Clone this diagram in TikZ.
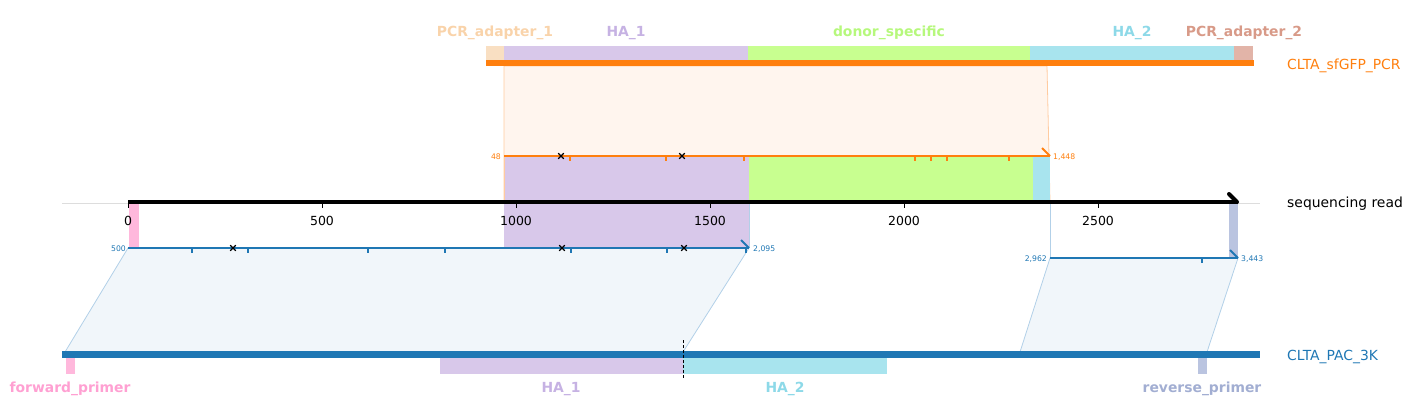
\documentclass[tikz,border=0pt]{standalone}
\usepackage{fontspec}
\setmainfont{DejaVu Sans}
\definecolor{cOrange}{HTML}{FF7F0E}
\definecolor{cBlue}{HTML}{1F77B4}
\definecolor{oShade}{HTML}{FFF5EE}
\definecolor{oEdge}{HTML}{FFCBA0}
\definecolor{bShade}{HTML}{F1F6FA}
\definecolor{bEdge}{HTML}{B2D0E8}
\definecolor{fPeach}{HTML}{F9DFC2}
\definecolor{tPeach}{HTML}{F9D3AA}
\definecolor{fLav}{HTML}{D8C8EA}
\definecolor{tLav}{HTML}{C6B2E3}
\definecolor{fGreen}{HTML}{C8FF90}
\definecolor{tGreen}{HTML}{B6F87C}
\definecolor{fCyan}{HTML}{A8E4EE}
\definecolor{tCyan}{HTML}{8DD9E8}
\definecolor{fBrown}{HTML}{E2B4A8}
\definecolor{tBrown}{HTML}{D89A88}
\definecolor{fPink}{HTML}{FFB8DC}
\definecolor{tPink}{HTML}{FFA0D2}
\definecolor{fSlate}{HTML}{BAC4E0}
\definecolor{tSlate}{HTML}{A2AED2}
\definecolor{gridGrey}{HTML}{DDDDDD}
\begin{document}
\begin{tikzpicture}[x=1pt,y=-1pt,
  featlbl/.style={font=\fontsize{13.9}{16}\selectfont\bfseries, inner sep=0pt, yshift=-2pt},
  seqlbl/.style={font=\fontsize{13.9}{16}\selectfont, inner sep=0pt, anchor=west, yshift=-2pt},
  ticklbl/.style={font=\fontsize{12.5}{14}\selectfont, inner sep=0pt, yshift=-1.5pt},
  poslbl/.style={font=\fontsize{7.7}{9}\selectfont, inner sep=0pt},
  aln/.style={line width=2pt},
  tickm/.style={line width=1.6pt},
  xmark/.style={line width=1.2pt, black},
  halfarrow/.style={line width=2pt}
]
\useasboundingbox (0,0) rectangle (1413,420);

% ---- shaded correspondence regions ----
\filldraw[fill=oShade, draw=oEdge, line width=0.8pt] (504,66) -- (1047,66) -- (1050,202) -- (504,202) -- cycle;
\filldraw[fill=bShade, draw=bEdge, line width=0.8pt] (128,248) -- (749,248) -- (683,352) -- (65,352) -- cycle;
\filldraw[fill=bShade, draw=bEdge, line width=0.8pt] (1050,258) -- (1238,258) -- (1207,352) -- (1020,352) -- cycle;

% ---- features projected on the read ----
\fill[fLav] (504,156) rectangle (749,202);
\fill[fGreen] (749,156) rectangle (1033,202);
\fill[fCyan] (1033,156) rectangle (1050,202);
\fill[fPink] (129,202) rectangle (139,248);
\fill[fLav] (504,202) rectangle (749,248);
\fill[fSlate] (1229,202) rectangle (1238,258);
\draw[bEdge, line width=0.8pt] (749.5,202) -- (749.5,248);
\draw[bEdge, line width=0.8pt] (1050,202) -- (1050,258);
\draw[oEdge, line width=0.8pt] (504,156) -- (504,202);

% ---- top record: CLTA_sfGFP_PCR ----
\fill[fPeach] (486,46) rectangle (504,60);
\fill[fLav] (504,46) rectangle (748,60);
\fill[fGreen] (748,46) rectangle (1030,60);
\fill[fCyan] (1030,46) rectangle (1234,60);
\fill[fBrown] (1234,46) rectangle (1253,60);
\fill[cOrange] (486,60) rectangle (1254,66);

\node[featlbl, text=tPeach] (lPCR1) at (495,31) {PCR\_adapter\_1};
\node[featlbl, text=tLav] (lHA1top) at (626,31) {HA\_1};
\node[featlbl, text=tGreen] (lDonor) at (889,31) {donor\_specific};
\node[featlbl, text=tCyan] (lHA2top) at (1132,31) {HA\_2};
\node[featlbl, text=tBrown] (lPCR2) at (1244,31) {PCR\_adapter\_2};
\node[seqlbl, text=cOrange] (lPCR) at (1287,64) {CLTA\_sfGFP\_PCR};

% ---- orange alignment ----
\draw[cOrange, aln] (504,156) -- (1050,156);
\draw[cOrange, halfarrow] (1050,156) -- (1042,148);
\foreach \x in {570,666,744,915,931,947,1009} \draw[cOrange, tickm] (\x,156) -- (\x,161);
\foreach \x in {561,682} \draw[xmark] (\x-2.8,153.2) -- (\x+2.8,158.8) (\x-2.8,158.8) -- (\x+2.8,153.2);
\node[poslbl, text=cOrange, anchor=east] (o48) at (501,157) {48};
\node[poslbl, text=cOrange, anchor=west] (o1448) at (1053,157) {1,448};

% ---- sequencing read axis ----
\draw[gridGrey, line width=0.8pt] (62,203) -- (1260,203);
\draw[black, line width=4pt] (128,202) -- (1238,202);
\draw[black, line width=4pt, line cap=round] (1237,202) -- (1229,194);
\foreach \v/\x in {0/128,500/322,1000/516,1500/710,2000/904,2500/1098} {
  \draw[black, line width=1pt] (\x,202) -- (\x,208);
  \node[ticklbl] (t\v) at (\x,219) {\v};
}
\node[seqlbl, text=black] (lRead) at (1287,202) {sequencing read};

% ---- blue alignments ----
\draw[cBlue, aln] (128,248) -- (749,248);
\draw[cBlue, halfarrow] (749,248) -- (741,240);
\foreach \x in {192,248,368,445,571,667,746} \draw[cBlue, tickm] (\x,248) -- (\x,253);
\foreach \x in {233,562,684} \draw[xmark] (\x-2.8,245.2) -- (\x+2.8,250.8) (\x-2.8,250.8) -- (\x+2.8,245.2);
\node[poslbl, text=cBlue, anchor=east] (b500) at (126,249) {500};
\node[poslbl, text=cBlue, anchor=west] (b2095) at (753,249) {2,095};

\draw[cBlue, aln] (1050,258) -- (1238,258);
\draw[cBlue, halfarrow] (1238,258) -- (1230,250);
\draw[cBlue, tickm] (1202,258) -- (1202,263);
\node[poslbl, text=cBlue, anchor=east] (b2962) at (1047,259) {2,962};
\node[poslbl, text=cBlue, anchor=west] (b3443) at (1241,259) {3,443};

% ---- bottom record: CLTA_PAC_3K ----
\fill[cBlue] (62,351) rectangle (1260,358);
\fill[fPink] (66,358) rectangle (75,374);
\fill[fLav] (440,358) rectangle (683,374);
\fill[fCyan] (683,358) rectangle (887,374);
\fill[fSlate] (1198,358) rectangle (1207,374);
\draw[black, line width=1pt, dash pattern=on 3pt off 2pt] (683,340) -- (683,378);

\node[featlbl, text=tPink] (lFwd) at (70,387) {forward\_primer};
\node[featlbl, text=tLav] (lHA1bot) at (561,387) {HA\_1};
\node[featlbl, text=tCyan] (lHA2bot) at (785,387) {HA\_2};
\node[featlbl, text=tSlate] (lRev) at (1202,387) {reverse\_primer};
\node[seqlbl, text=cBlue] (lPAC) at (1287,355) {CLTA\_PAC\_3K};
\end{tikzpicture}
\end{document}
